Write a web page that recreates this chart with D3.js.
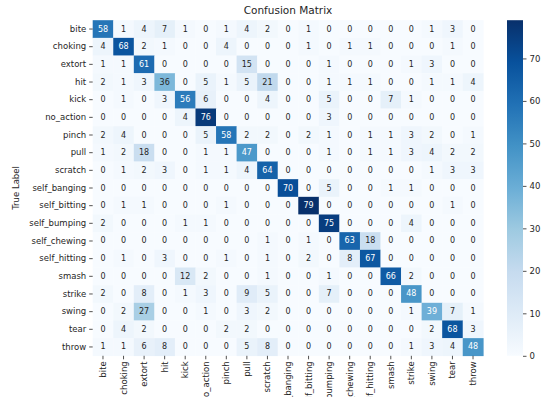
<!DOCTYPE html>
<html><head><meta charset="utf-8">
<script src="https://cdn.jsdelivr.net/npm/d3@7"></script>
<style>body{margin:0;background:#fff;}svg{display:block;font-family:"DejaVu Sans",sans-serif;}</style>
</head><body><svg id="c" width="544" height="397"></svg>
<script>
const categories = ["bite","choking","extort","hit","kick","no_action","pinch","pull","scratch","self_banging","self_bitting","self_bumping","self_chewing","self_hitting","smash","strike","swing","tear","throw"];
const row_bite         = [58,1,4,7,1,0,1,4,2,0,1,0,0,0,0,0,1,3,0];
const row_choking      = [4,68,2,1,0,0,4,0,0,0,1,0,1,1,0,0,0,1,0];
const row_extort       = [1,1,61,0,0,0,0,15,0,0,0,1,0,0,0,1,3,0,0];
const row_hit          = [2,1,3,36,0,5,1,5,21,0,0,1,1,1,0,0,1,1,4];
const row_kick         = [0,1,0,3,56,6,0,0,4,0,0,5,0,0,7,1,0,0,0];
const row_no_action    = [0,0,0,0,4,76,0,0,0,0,0,3,0,0,0,0,0,0,0];
const row_pinch        = [2,4,0,0,0,5,58,2,2,0,2,1,0,1,1,3,2,0,1];
const row_pull         = [1,2,18,0,0,1,1,47,0,0,0,1,0,1,1,3,4,2,2];
const row_scratch      = [0,1,2,3,0,1,1,4,64,0,0,0,0,0,0,0,1,3,3];
const row_self_banging = [0,0,0,0,0,0,0,0,0,70,0,5,0,0,1,1,0,0,0];
const row_self_bitting = [0,1,1,0,0,0,1,0,0,0,79,0,0,0,0,0,0,1,0];
const row_self_bumping = [2,0,0,0,1,1,0,0,0,0,0,75,0,0,0,4,0,0,0];
const row_self_chewing = [0,0,0,0,0,0,0,0,1,0,1,0,63,18,0,0,0,0,0];
const row_self_hitting = [0,1,0,3,0,0,1,0,1,0,2,0,8,67,0,0,0,0,0];
const row_smash        = [0,0,0,0,12,2,0,0,1,0,0,1,0,0,66,2,0,0,0];
const row_strike       = [2,0,8,0,1,3,0,9,5,0,0,7,0,0,0,48,0,0,0];
const row_swing        = [0,2,27,0,0,1,0,3,2,0,0,0,0,0,0,1,39,7,1];
const row_tear         = [0,4,2,0,0,0,2,2,0,0,0,0,0,0,0,0,2,68,3];
const row_throw        = [1,1,6,8,0,0,0,5,8,0,0,0,0,0,0,1,3,4,48];
const colorbarTicks = [0,10,20,30,40,50,60,70];
const titleText = "Confusion Matrix";
const yLabelText = "True Label";

const matrix = [row_bite,row_choking,row_extort,row_hit,row_kick,row_no_action,row_pinch,row_pull,row_scratch,row_self_banging,row_self_bitting,row_self_bumping,row_self_chewing,row_self_hitting,row_smash,row_strike,row_swing,row_tear,row_throw];

const svg = d3.select("#c");
const L = 92.7, R = 483.3, T = 20.2, B = 355.8;
const x = d3.scaleBand().domain(categories).range([L, R]);
const y = d3.scaleBand().domain(categories).range([T, B]);
const vmax = d3.max(matrix.flat());
const blues = ["#f7fbff","#deebf7","#c6dbef","#9ecae1","#6baed6","#4292c6","#2171b5","#08519c","#08306b"];
const color = d3.scaleLinear().domain(blues.map((d,i)=>i/8*vmax)).range(blues).clamp(true);

const cells = [];
matrix.forEach((row,i)=>row.forEach((v,j)=>cells.push({r:categories[i],c:categories[j],v})));

svg.append("g").selectAll("rect").data(cells).join("rect")
  .attr("x",d=>x(d.c)).attr("y",d=>y(d.r))
  .attr("width",x.bandwidth()+0.3).attr("height",y.bandwidth()+0.3)
  .attr("fill",d=>color(d.v));

function lum(c){
  const rgb=d3.rgb(c);
  const f=v=>{v/=255;return v<=0.03928?v/12.92:Math.pow((v+0.055)/1.055,2.4);};
  return 0.2126*f(rgb.r)+0.7152*f(rgb.g)+0.0722*f(rgb.b);
}
svg.append("g").selectAll("text").data(cells).join("text")
  .attr("x",d=>x(d.c)+x.bandwidth()/2).attr("y",d=>y(d.r)+y.bandwidth()/2)
  .attr("text-anchor","middle").attr("dominant-baseline","central")
  .attr("font-size",8).attr("fill",d=>lum(color(d.v))>0.408?"#262626":"#ffffff")
  .text(d=>d.v);

const yAxis = d3.axisLeft(y).tickSize(3.5).tickPadding(3);
const gy = svg.append("g").attr("transform",`translate(${L},0)`).call(yAxis);
const xAxis = d3.axisBottom(x).tickSize(3.5).tickPadding(3);
const gx = svg.append("g").attr("transform",`translate(0,${B})`).call(xAxis);
[gy,gx].forEach(g=>{
  g.select(".domain").remove();
  g.selectAll(".tick line").attr("stroke","#262626").attr("stroke-width",0.8);
  g.selectAll(".tick text").attr("fill","#262626").attr("font-size",8.5).attr("font-family","DejaVu Sans, sans-serif");
});
gx.selectAll(".tick text").attr("transform","rotate(-90)").attr("text-anchor","end")
  .attr("x",-5.5).attr("y",0).attr("dy","0.35em");

svg.append("text").attr("x",(L+R)/2).attr("y",14).attr("text-anchor","middle")
  .attr("font-size",10.5).attr("fill","#262626").text(titleText);
svg.append("text").attr("transform",`translate(19,${(T+B)/2}) rotate(-90)`).attr("text-anchor","middle")
  .attr("font-size",8.5).attr("fill","#262626").text(yLabelText);

// colorbar
const cbx = 507, cbw = 16;
const cy = d3.scaleLinear().domain([0,vmax]).range([B,T]);
const defs = svg.append("defs");
const grad = defs.append("linearGradient").attr("id","cbg").attr("x1",0).attr("y1",1).attr("x2",0).attr("y2",0);
blues.forEach((c,i)=>grad.append("stop").attr("offset",i/8).attr("stop-color",c));
svg.append("rect").attr("x",cbx).attr("y",T).attr("width",cbw).attr("height",B-T).attr("fill","url(#cbg)");
const gc = svg.append("g").attr("transform",`translate(${cbx+cbw},0)`)
  .call(d3.axisRight(cy).tickValues(colorbarTicks).tickSize(3.5).tickPadding(3));
gc.select(".domain").remove();
gc.selectAll(".tick line").attr("stroke","#262626").attr("stroke-width",0.8);
gc.selectAll(".tick text").attr("fill","#262626").attr("font-size",8.5).attr("font-family","DejaVu Sans, sans-serif");
</script></body></html>
